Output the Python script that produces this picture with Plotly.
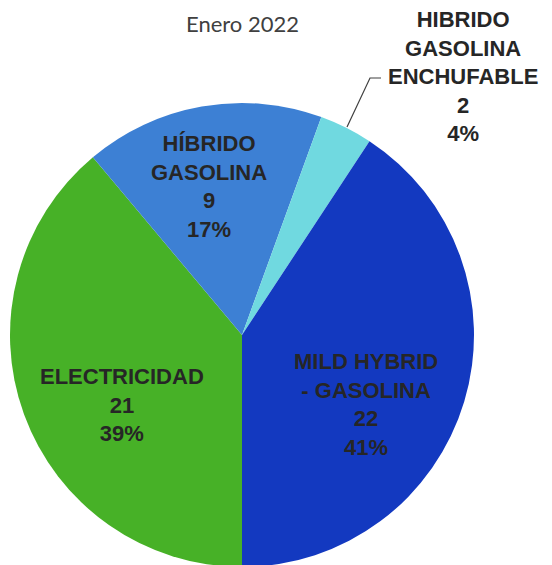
import plotly.graph_objects as go

title_text = "Enero 2022"
labels = ["ELECTRICIDAD", "HÍBRIDO<br>GASOLINA", "HIBRIDO<br>GASOLINA<br>ENCHUFABLE", "MILD HYBRID<br>- GASOLINA"]
values = [21, 9, 2, 22]
colors = ["#47b127", "#3d80d4", "#70d9e0", "#1339c0"]

W, H = 552, 565
OFF = 8  # page body margin
total = sum(values)

def px2x(px):
    return (px - OFF) / W

def py2y(py):
    return 1 - (py - OFF) / H

fig = go.Figure(go.Pie(
    labels=labels,
    values=values,
    sort=False,
    direction="clockwise",
    rotation=180,
    marker=dict(colors=colors, line=dict(width=0)),
    textinfo="none",
    hoverinfo="label+value+percent",
    showlegend=False,
    domain=dict(x=[px2x(10), px2x(474)], y=[py2y(567), py2y(103)]),
))

# label anchor points in pixels (centre of each text block)
label_pos = [(122, 405), (209, 186), (463, 76), (366, 404)]
annotations = []
for lab, v, (px, py) in zip(labels, values, label_pos):
    pct = round(v / total * 100)
    annotations.append(dict(
        x=px2x(px), y=py2y(py), xref="paper", yref="paper",
        text=f"<b>{lab}<br>{v}<br>{pct}%</b>",
        showarrow=False, xanchor="center", yanchor="middle",
        font=dict(family="Arial", size=22, color="#262626"),
    ))
annotations.append(dict(
    x=px2x(242), y=py2y(23), xref="paper", yref="paper",
    text=title_text, showarrow=False, xanchor="center", yanchor="middle",
    font=dict(family="Lato", size=22, color="#404040"),
))

fig.update_layout(
    width=W, height=H,
    margin=dict(l=0, r=0, t=0, b=0),
    paper_bgcolor="white", plot_bgcolor="white",
    annotations=annotations,
    shapes=[dict(
        type="path", xref="paper", yref="paper",
        path=f"M {px2x(347)} {py2y(127)} L {px2x(370)} {py2y(78)} L {px2x(381)} {py2y(78)}",
        line=dict(color="#404040", width=1.2),
    )],
)

fig.write_html("out.html")
